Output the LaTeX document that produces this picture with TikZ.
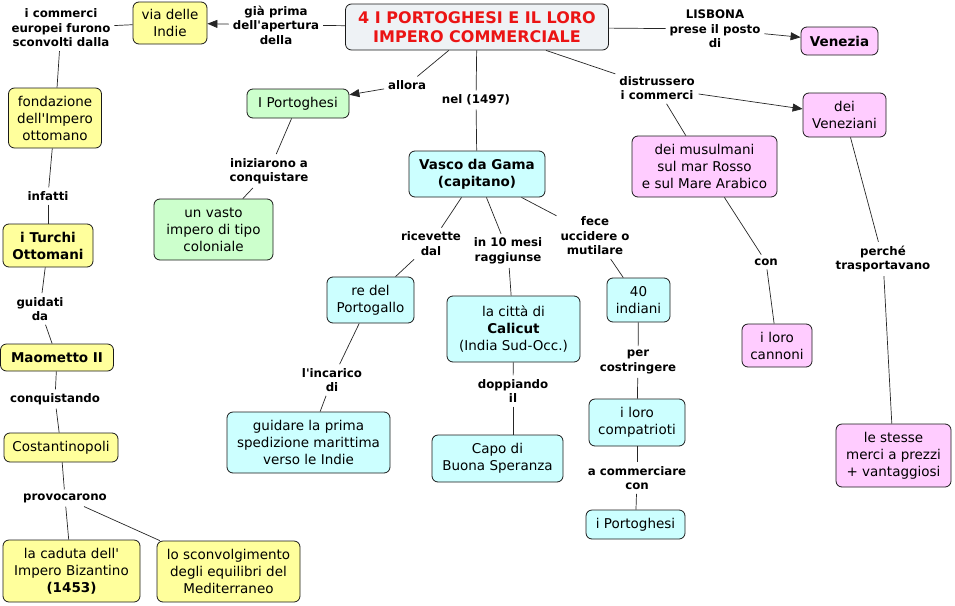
\documentclass[tikz,border=0pt]{standalone}
\usepackage{fontspec}
\setmainfont{DejaVu Sans}
\usetikzlibrary{arrows.meta}
\definecolor{cyel}{HTML}{FFFF9C}
\definecolor{cgreen}{HTML}{CCFFCC}
\definecolor{ccyan}{HTML}{CCFFFF}
\definecolor{cpink}{HTML}{FFCCFF}
\definecolor{ctitle}{HTML}{EEF2F5}
\definecolor{ctred}{RGB}{235,20,20}
\newcommand{\apo}{\textquotesingle}
\tikzset{
  box/.style={draw=black!90, line width=0.8pt, rounded corners=6pt, align=center, inner sep=0pt, font=\fontsize{13.5}{17}\selectfont},
  yb/.style={box, fill=cyel},
  gb/.style={box, fill=cgreen},
  cb/.style={box, fill=ccyan},
  pb/.style={box, fill=cpink},
  lab/.style={font=\bfseries\fontsize{11.8}{14.5}\selectfont, align=center, inner sep=1pt, outer sep=3pt},
  conn/.style={draw=black!85, line width=0.7pt},
  arr/.style={conn, -{Triangle[length=10pt,width=8pt]}},
}
\begin{document}
\begin{tikzpicture}[x=1pt,y=-1pt]
\useasboundingbox (0,0) rectangle (955,605);

% boxes
\node[box, fill=ctitle, minimum width=263pt, minimum height=46pt, text=ctred, font=\bfseries\fontsize{16}{19}\selectfont] (title) at (477,27) {4 I PORTOGHESI E IL LORO\\IMPERO COMMERCIALE};
\node[yb, minimum width=74pt, minimum height=42pt] (via) at (170,23) {via delle\\Indie};
\node[yb, minimum width=93pt, minimum height=60pt] (fond) at (55,118) {fondazione\\dell\apo Impero\\ottomano};
\node[yb, minimum width=90pt, minimum height=43pt, font=\bfseries\fontsize{13.5}{17}\selectfont] (turchi) at (48,245.5) {i Turchi\\Ottomani};
\node[yb, minimum width=113pt, minimum height=27pt, font=\bfseries\fontsize{13.5}{17}\selectfont] (maom) at (57,357.5) {Maometto II};
\node[yb, minimum width=114pt, minimum height=29pt] (cost) at (61,447.5) {Costantinopoli};
\node[yb, minimum width=137pt, minimum height=62pt] (caduta) at (71.5,571) {la caduta dell\apo\\Impero Bizantino\\\textbf{(1453)}};
\node[yb, minimum width=143pt, minimum height=61pt] (sconv) at (228.5,571.5) {lo sconvolgimento\\degli equilibri del\\Mediterraneo};
\node[gb, minimum width=102pt, minimum height=29pt] (port1) at (298,103.5) {I Portoghesi};
\node[gb, minimum width=119pt, minimum height=61pt] (vasto) at (213.5,229.5) {un vasto\\impero di tipo\\coloniale};
\node[cb, minimum width=136pt, minimum height=46pt, font=\bfseries\fontsize{13.5}{17}\selectfont] (vasco) at (477,174) {Vasco da Gama\\(capitano)};
\node[cb, minimum width=87pt, minimum height=46pt] (re) at (370.5,300) {re del\\Portogallo};
\node[cb, minimum width=163pt, minimum height=61pt] (guid) at (308.5,442.5) {guidare la prima\\spedizione marittima\\verso le Indie};
\node[cb, minimum width=133pt, minimum height=66pt] (calicut) at (513.5,329) {la città di\\\textbf{Calicut}\\(India Sud-Occ.)};
\node[cb, minimum width=131pt, minimum height=47pt] (capo) at (497.5,458.5) {Capo di\\Buona Speranza};
\node[cb, minimum width=63pt, minimum height=44pt] (indiani) at (638.5,300) {40\\indiani};
\node[cb, minimum width=96pt, minimum height=47pt] (compat) at (637,422.5) {i loro\\compatrioti};
\node[cb, minimum width=99pt, minimum height=29pt] (port2) at (635.5,524.5) {i Portoghesi};
\node[pb, minimum width=77pt, minimum height=28pt, font=\bfseries\fontsize{13.5}{17}\selectfont] (venezia) at (839.5,41) {Venezia};
\node[pb, minimum width=83pt, minimum height=44pt] (venez) at (844.5,115) {dei\\Veneziani};
\node[pb, minimum width=145pt, minimum height=61pt] (musul) at (704.5,166.5) {dei musulmani\\sul mar Rosso\\e sul Mare Arabico};
\node[pb, minimum width=70pt, minimum height=43pt] (cannoni) at (777,345.5) {i loro\\cannoni};
\node[pb, minimum width=115pt, minimum height=63pt] (stesse) at (893.5,455.5) {le stesse\\merci a prezzi\\+ vantaggiosi};

% labels
\node[lab] (lVia) at (276,25) {già prima\\dell\apo apertura\\della};
\node[lab] (lComm) at (61,28) {i commerci\\europei furono\\sconvolti dalla};
\node[lab] (lInfatti) at (48,196) {infatti};
\node[lab] (lGuid) at (40,309) {guidati\\da};
\node[lab] (lConq) at (55,399) {conquistando};
\node[lab] (lProv) at (65,498) {provocarono};
\node[lab] (lAllora) at (407,85) {allora};
\node[lab] (lIniz) at (269,171) {iniziarono a\\conquistare};
\node[lab] (lNel) at (476,100) {nel (1497)};
\node[lab] (lLisb) at (715,29) {LISBONA\\prese il posto\\di};
\node[lab] (lDistr) at (657,88) {distrussero\\i commerci};
\node[lab] (lRicev) at (431,243.5) {ricevette\\dal};
\node[lab] (lMesi) at (508,251) {in 10 mesi\\raggiunse};
\node[lab] (lFece) at (595,236) {fece\\uccidere o\\mutilare};
\node[lab] (lIncar) at (332,380) {l\apo incarico\\di};
\node[lab] (lDopp) at (513,391) {doppiando\\il};
\node[lab] (lPer) at (638,362) {per\\costringere};
\node[lab] (lAcomm) at (637,478) {a commerciare\\con};
\node[lab] (lCon) at (766,262) {con};
\node[lab] (lPerche) at (883,259) {perché\\trasportavano};

% connectors
\draw[conn] (title) -- (lVia);
\draw[arr] (lVia) -- (via);
\draw[conn] (via) -- (lComm);
\draw[conn] (lComm) -- (fond);
\draw[conn] (fond) -- (lInfatti);
\draw[conn] (lInfatti) -- (turchi);
\draw[conn] (turchi) -- (lGuid);
\draw[conn] (lGuid) -- (maom);
\draw[conn] (maom) -- (lConq);
\draw[conn] (lConq) -- (cost);
\draw[conn] (cost) -- (lProv);
\draw[conn] (lProv) -- (caduta);
\draw[conn] (lProv) -- (sconv);
\draw[conn] (title) -- (lAllora);
\draw[arr] (lAllora) -- (port1);
\draw[conn] (port1) -- (lIniz);
\draw[conn] (lIniz) -- (vasto);
\draw[conn] (title) -- (lNel);
\draw[conn] (lNel) -- (vasco);
\draw[conn] (vasco) -- (lRicev);
\draw[conn] (lRicev) -- (re);
\draw[conn] (re) -- (lIncar);
\draw[conn] (lIncar) -- (guid);
\draw[conn] (vasco) -- (lMesi);
\draw[conn] (lMesi) -- (calicut);
\draw[conn] (calicut) -- (lDopp);
\draw[conn] (lDopp) -- (lDopp |- capo.north);
\draw[conn] (vasco) -- (lFece);
\draw[conn] (lFece) -- (indiani);
\draw[conn] (indiani) -- (lPer);
\draw[conn] (lPer) -- (compat);
\draw[conn] (compat) -- (lAcomm);
\draw[conn] (lAcomm) -- (port2);
\draw[conn] (title) -- (lLisb);
\draw[arr] (lLisb) -- (venezia);
\draw[conn] (title) -- (lDistr);
\draw[arr] (lDistr) -- (venez);
\draw[conn] (lDistr) -- (musul);
\draw[conn] (musul) -- (lCon);
\draw[conn] (lCon) -- (cannoni);
\draw[conn] (venez) -- (lPerche);
\draw[conn] (lPerche) -- (stesse);
\end{tikzpicture}
\end{document}
